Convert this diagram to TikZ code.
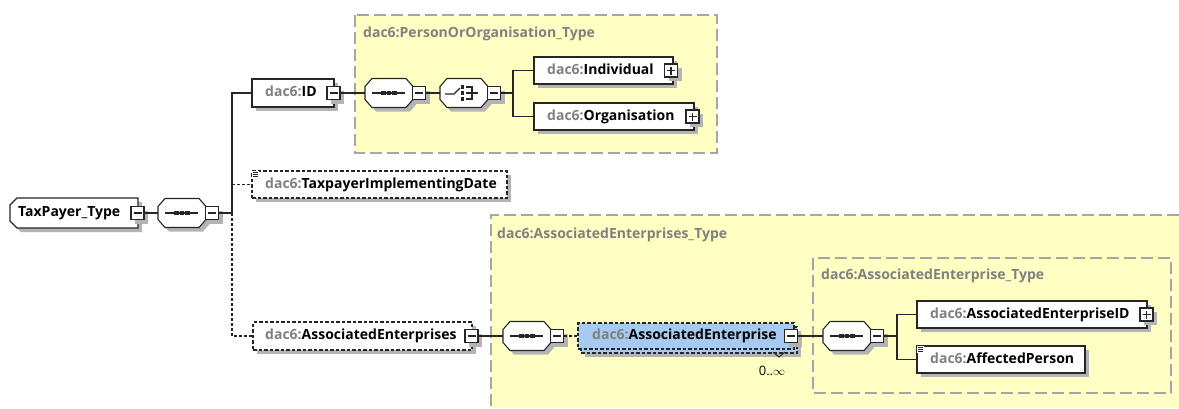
\documentclass[tikz,border=0pt]{standalone}
\usepackage{fontspec}
\setmainfont{Open Sans}
\usetikzlibrary{shadows}
\definecolor{ylw}{RGB}{255,255,196}
\definecolor{bordergray}{RGB}{165,165,165}
\definecolor{titlegray}{RGB}{128,128,128}
\definecolor{shdc}{RGB}{180,180,180}
\definecolor{blu}{RGB}{166,202,240}
\definecolor{pfx}{RGB}{128,128,128}
\newcommand\pf{\textcolor{pfx}{dac6:}}
\tikzset{
 shd/.style={drop shadow={shadow xshift=4pt,shadow yshift=-4pt,fill=shdc,opacity=1}},
 elem/.style={draw=black!85, fill=white, line width=1.1pt, inner sep=0, shd},
 optelem/.style={elem, dash pattern=on 3.5pt off 2pt},
 optelemns/.style={draw=black!85, fill=white, line width=1.1pt, inner sep=0, dash pattern=on 3.5pt off 2pt},
 typefill/.style={fill=ylw},
 typeborder/.style={draw=bordergray, line width=1.3pt, dash pattern=on 12pt off 5pt},
 lbl/.style={font=\bfseries\fontsize{14}{16}\selectfont, inner sep=0, anchor=west, text height=10pt, text depth=3pt},
 ttl/.style={lbl, text=titlegray},
 pm/.style={draw=black!85, fill=white, line width=1.1pt, minimum size=13pt, inner sep=0, shd},
 pmline/.style={line width=1.1pt, black!85},
 conn/.style={line width=1.3pt, draw=black!85},
 optconn/.style={conn, dash pattern=on 3pt off 2pt},
 icon/.style={line width=1.1pt, black!85},
}
\newcommand\pmbox[4]{%
 \node[pm] (#1) at (#2,#3) {};
 \draw[pmline] ([xshift=-4pt]#1.center) -- ([xshift=4pt]#1.center);
 \ifx+#4\draw[pmline] ([yshift=-4pt]#1.center) -- ([yshift=4pt]#1.center);\fi}
\newcommand\compo[4]{%
 \node[inner sep=0, minimum width=48pt, minimum height=29pt] (#1) at (#2,#3) {};
 \begin{scope}[shift={(#2,#3)}]
  \path[elem] (-17,-14.5) -- (17,-14.5) -- (24,-6.5) -- (24,6.5) -- (17,14.5) -- (-17,14.5) -- (-24,6.5) -- (-24,-6.5) -- cycle;
  #4
 \end{scope}
 \pmbox{#1m}{#2+30}{#3}{-}}
\newcommand\seqicon{%
 \draw[icon] (-17,0) -- (16,0);
 \foreach \d in {-5.5,0,5.5}{\fill[black!85] (\d-2.2,-2.2) rectangle (\d+2.2,2.2);}}
\newcommand\choiceicon{%
 \draw[icon] (-19,1) -- (-10,1) -- (-4,-5);
 \foreach \d in {-6,0,6}{\fill[black!85] (-3.2,\d-1.8) rectangle (0.4,\d+1.8);}
 \draw[icon] (2,-6) -- (8,-6) -- (8,6) -- (2,6);
 \draw[icon] (2,0) -- (14,0);}
\newcommand\docicon[3]{%
 \node[inner sep=0, minimum size=7pt, fill=white] (#1) at (#2+3.5,#3+3.5) {};
 \foreach \s in {2,0,-2}{\draw[line width=0.8pt, black!85] ([xshift=-2.5pt,yshift=\s pt]#1.center) -- ([xshift=2.5pt,yshift=\s pt]#1.center);}}
\begin{document}
\begin{tikzpicture}[x=1pt,y=-1pt]
\useasboundingbox (0,0) rectangle (1179,408);
\fill[white] (0,0) rectangle (1179,408);
% type boxes
\path[typefill] (355,15) rectangle (717,153);
\draw[typeborder] (355,15) rectangle (717,153);
\path[typefill] (491,215) rectangle (1179,408);
\draw[typeborder] (1179,215) -- (491,215) -- (491,408);
\path[typefill] (813,258) rectangle (1171,393);
\draw[typeborder] (813,258) rectangle (1171,393);
\node[ttl] (t1) at (363,34) {dac6:PersonOrOrganisation\_Type};
\node[ttl] (t2) at (497,235) {dac6:AssociatedEnterprises\_Type};
\node[ttl] (t3) at (821,276) {dac6:AssociatedEnterprise\_Type};
% root
\node[inner sep=0, minimum width=128pt, minimum height=30pt] (tp) at (74,213) {};
\path[elem] (17,198) -- (138,198) -- (138,228) -- (17,228) -- (10,221) -- (10,205) -- cycle;
\node[lbl] (tpl) at (18,213) {TaxPayer\_Type};
\pmbox{tpm}{137.5}{213}{-}
\compo{seq0}{182}{213}{\seqicon}
% ID
\node[elem, minimum width=82pt, minimum height=28pt] (id) at (293,93) {};
\node[lbl] (idl) at (265,93) {\pf ID};
\pmbox{idm}{333.5}{93}{-}
\compo{seq1}{389}{93}{\seqicon}
\compo{ch}{464}{93}{\choiceicon}
\node[elem, minimum width=139pt, minimum height=27pt] (ind) at (603.5,70.5) {};
\node[lbl] (indl) at (547,70.5) {\pf Individual};
\pmbox{indp}{671}{70.5}{+}
\node[elem, minimum width=160pt, minimum height=27pt] (org) at (614,116.5) {};
\node[lbl] (orgl) at (547,116.5) {\pf Organisation};
\pmbox{orgp}{692.5}{116.5}{+}
% TaxpayerImplementingDate
\node[optelem, minimum width=255pt, minimum height=27pt] (tid) at (379.5,184.5) {};
\node[lbl] (tidl) at (265,184.5) {\pf TaxpayerImplementingDate};
\docicon{tidi}{252}{171}
% AssociatedEnterprises
\node[optelem, minimum width=219pt, minimum height=28pt] (ae) at (362.5,336) {};
\node[lbl] (ael) at (265,336) {\pf AssociatedEnterprises};
\pmbox{aem}{471.5}{336}{-}
\compo{seq2}{527}{336}{\seqicon}
\node[optelem, fill=blu, minimum width=216pt, minimum height=26pt] (aeb) at (689,340) {};
\node[optelemns, fill=blu, minimum width=216pt, minimum height=26pt] (aef) at (686,336) {};
\node[lbl] (aefl) at (592,336) {\pf AssociatedEnterprise};
\pmbox{aefm}{791}{336}{-}
\coordinate (chv) at (779,357);
\draw[line width=1pt, black!85] (773,352) -- (chv) -- (785,352);
\node[font=\fontsize{13}{15}\selectfont, inner sep=0] (mult) at (772,371) {0..$\infty$};
\compo{seq3}{847}{336}{\seqicon}
\node[elem, minimum width=230pt, minimum height=27pt] (aeid) at (1032,314.5) {};
\node[lbl] (aeidl) at (930,314.5) {\pf AssociatedEnterpriseID};
\pmbox{aeidp}{1146.5}{314.5}{+}
\node[elem, minimum width=168pt, minimum height=27pt] (affp) at (1001,359.5) {};
\node[lbl] (affpl) at (930,359.5) {\pf AffectedPerson};
\docicon{affpi}{917}{346}
% connectors
\draw[conn] (tpm.east) -- (seq0.west);
\coordinate (trunk) at (232,213);
\draw[conn] (seq0m.east) -- (trunk) |- (id.west);
\draw[optconn] (trunk) |- (ae.west);
\draw[optconn] (trunk |- tid.west) -- (tid.west);
\draw[conn] (idm.east) -- (seq1.west);
\draw[conn] (seq1m.east) -- (ch.west);
\coordinate (chb) at (513,93);
\draw[conn] (chm.east) -- (chb) |- (ind.west);
\draw[conn] (chb) |- (org.west);
\draw[conn] (aem.east) -- (seq2.west);
\draw[optconn] (seq2m.east) -- (aef.west);
\draw[conn] (aefm.east) -- (seq3.west);
\coordinate (s3b) at (897,336);
\draw[conn] (seq3m.east) -- (s3b) |- (aeid.west);
\draw[conn] (s3b) |- (affp.west);
\end{tikzpicture}
\end{document}
